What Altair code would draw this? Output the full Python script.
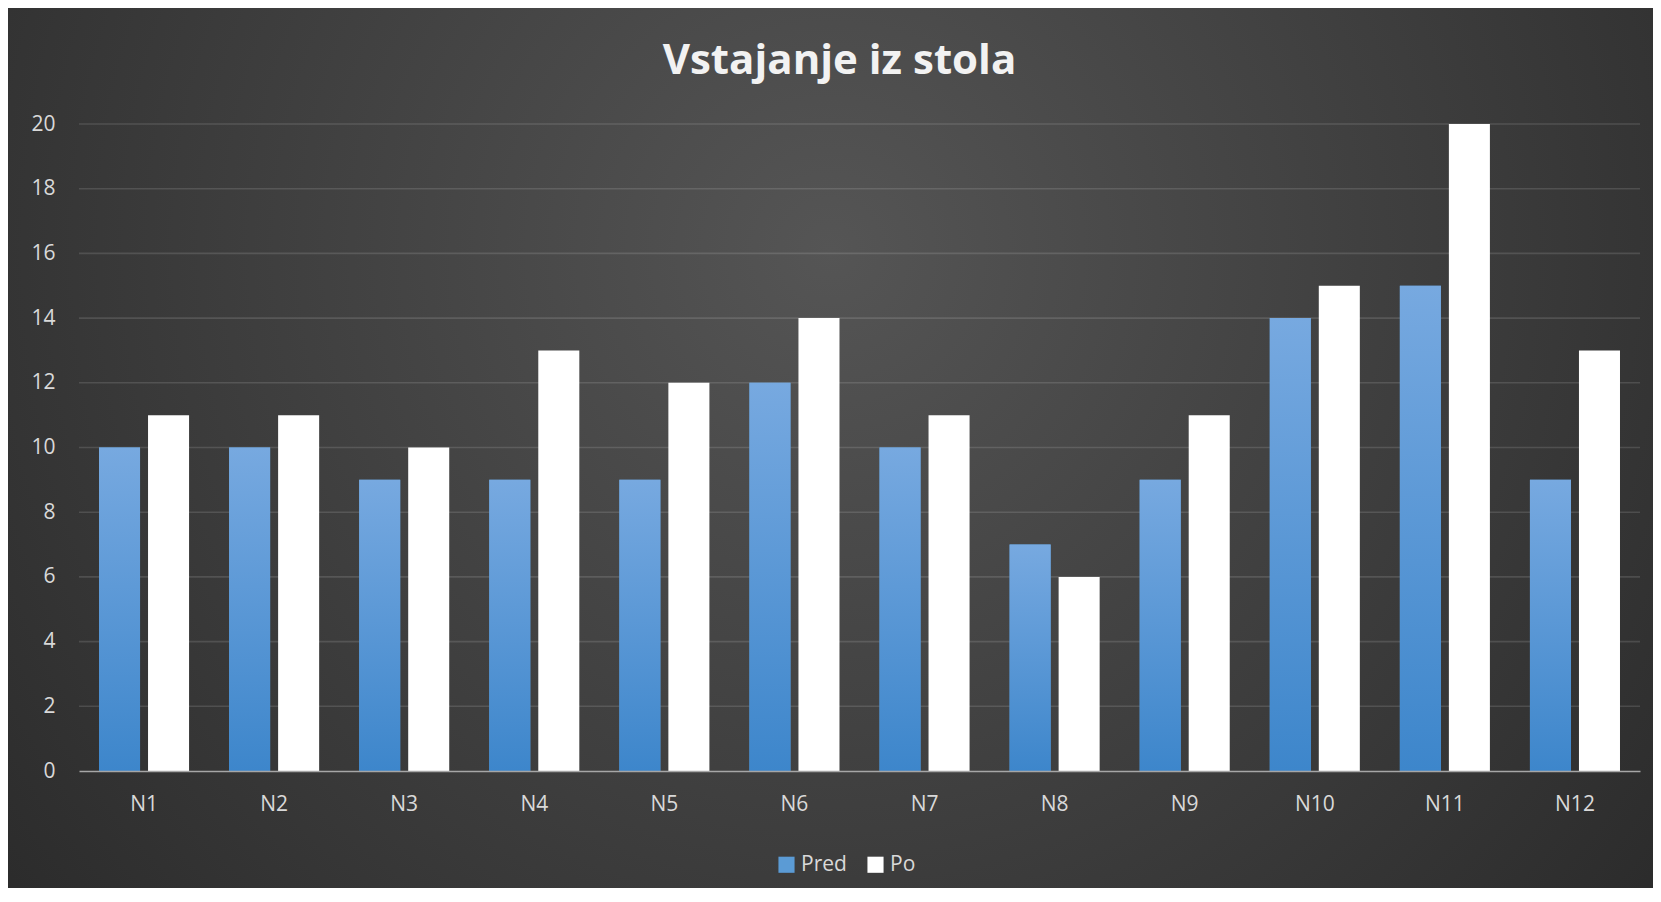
import altair as alt
import pandas as pd

categories = ["N1", "N2", "N3", "N4", "N5", "N6", "N7", "N8", "N9", "N10", "N11", "N12"]
pred = [10, 10, 9, 9, 9, 12, 10, 7, 9, 14, 15, 9]
po = [11, 11, 10, 13, 12, 14, 11, 6, 11, 15, 20, 13]
series = ["Pred", "Po"]
y_ticks = [0, 2, 4, 6, 8, 10, 12, 14, 16, 18, 20]

rows = []
for c, a, b in zip(categories, pred, po):
    rows.append({"cat": c, "series": "Pred", "value": a})
    rows.append({"cat": c, "series": "Po", "value": b})
df = pd.DataFrame(rows)
grid_df = pd.DataFrame({"value": y_ticks[1:]})

W, H = 1561, 647
PAD = {"left": 71, "top": 116, "right": 13, "bottom": 117}
FONT = "Open Sans"

bg = alt.Chart(pd.DataFrame({"k": [0]})).mark_rect(
    color=alt.Gradient(
        gradient="radial",
        x1=0.5, y1=0.38, r1=0.0,
        x2=0.5, y2=0.38, r2=0.72,
        stops=[alt.GradientStop(color="#555555", offset=0),
               alt.GradientStop(color="#262626", offset=1)],
    )
).encode(
    x=alt.value(-PAD["left"]), x2=alt.value(W + PAD["right"]),
    y=alt.value(-PAD["top"]), y2=alt.value(H + PAD["bottom"]),
)

x_enc = alt.X("cat:N", sort=categories, title=None,
              scale=alt.Scale(paddingInner=40 / 130, paddingOuter=0.1538),
              axis=alt.Axis(labelAngle=0, ticks=False, labelPadding=22, domain=True,
                            domainColor="#a6a6a6", domainWidth=1.5, grid=False, zindex=2,
                            labelFontSize=21, labelColor="#d9d9d9", labelFont=FONT))
xo_enc = alt.XOffset("series:N", sort=series,
                     scale=alt.Scale(domain=series, paddingInner=0.163, paddingOuter=0))
y_scale = alt.Scale(domain=[0, 20], nice=False)
y_enc = alt.Y("value:Q", title=None, scale=y_scale,
              axis=alt.Axis(values=y_ticks, ticks=False, domain=False, labelPadding=24,
                            grid=False, zindex=2,
                            labelFontSize=21, labelColor="#d9d9d9", labelFont=FONT))

grid = alt.Chart(grid_df).mark_rule(color="#ffffff", opacity=0.13, strokeWidth=1.6).encode(
    y=alt.Y("value:Q", scale=y_scale), x=alt.value(0), x2=alt.value(W)
)

bars = alt.Chart(df).mark_bar().encode(
    x=x_enc, xOffset=xo_enc, y=y_enc,
    color=alt.Color("series:N", sort=series,
                    scale=alt.Scale(domain=series, range=["#5b9bd5", "#ffffff"]),
                    legend=alt.Legend(title=None, orient="none", direction="horizontal",
                                      legendX=697, legendY=730, symbolType="square",
                                      symbolSize=260, symbolStrokeWidth=0,
                                      labelFontSize=21, labelColor="#d9d9d9", labelFont=FONT,
                                      columnPadding=18, symbolOffset=0, labelOffset=4)),
)

grad_bars = alt.Chart(df).transform_filter(alt.datum.series == "Pred").mark_bar(
    color=alt.Gradient(
        gradient="linear", x1=0, x2=0, y1=0, y2=1,
        stops=[alt.GradientStop(color="#77a9e0", offset=0),
               alt.GradientStop(color="#3d86cb", offset=1)],
    )
).encode(x=x_enc, xOffset=xo_enc, y=y_enc)

chart = alt.layer(bg, grid, bars, grad_bars).properties(
    width=W, height=H,
    title=alt.TitleParams("Vstajanje iz stola", font=FONT, fontSize=42, fontWeight="bold",
                          color="#f2f2f2", anchor="middle", frame="group", dx=-20,
                          baseline="alphabetic", offset=-108),
    autosize=alt.AutoSizeParams(type="none"),
    padding=PAD,
).configure(background="#2b2b2b").configure_view(stroke=None)

chart.save("out.html", embed_options={"renderer": "svg", "actions": False})
